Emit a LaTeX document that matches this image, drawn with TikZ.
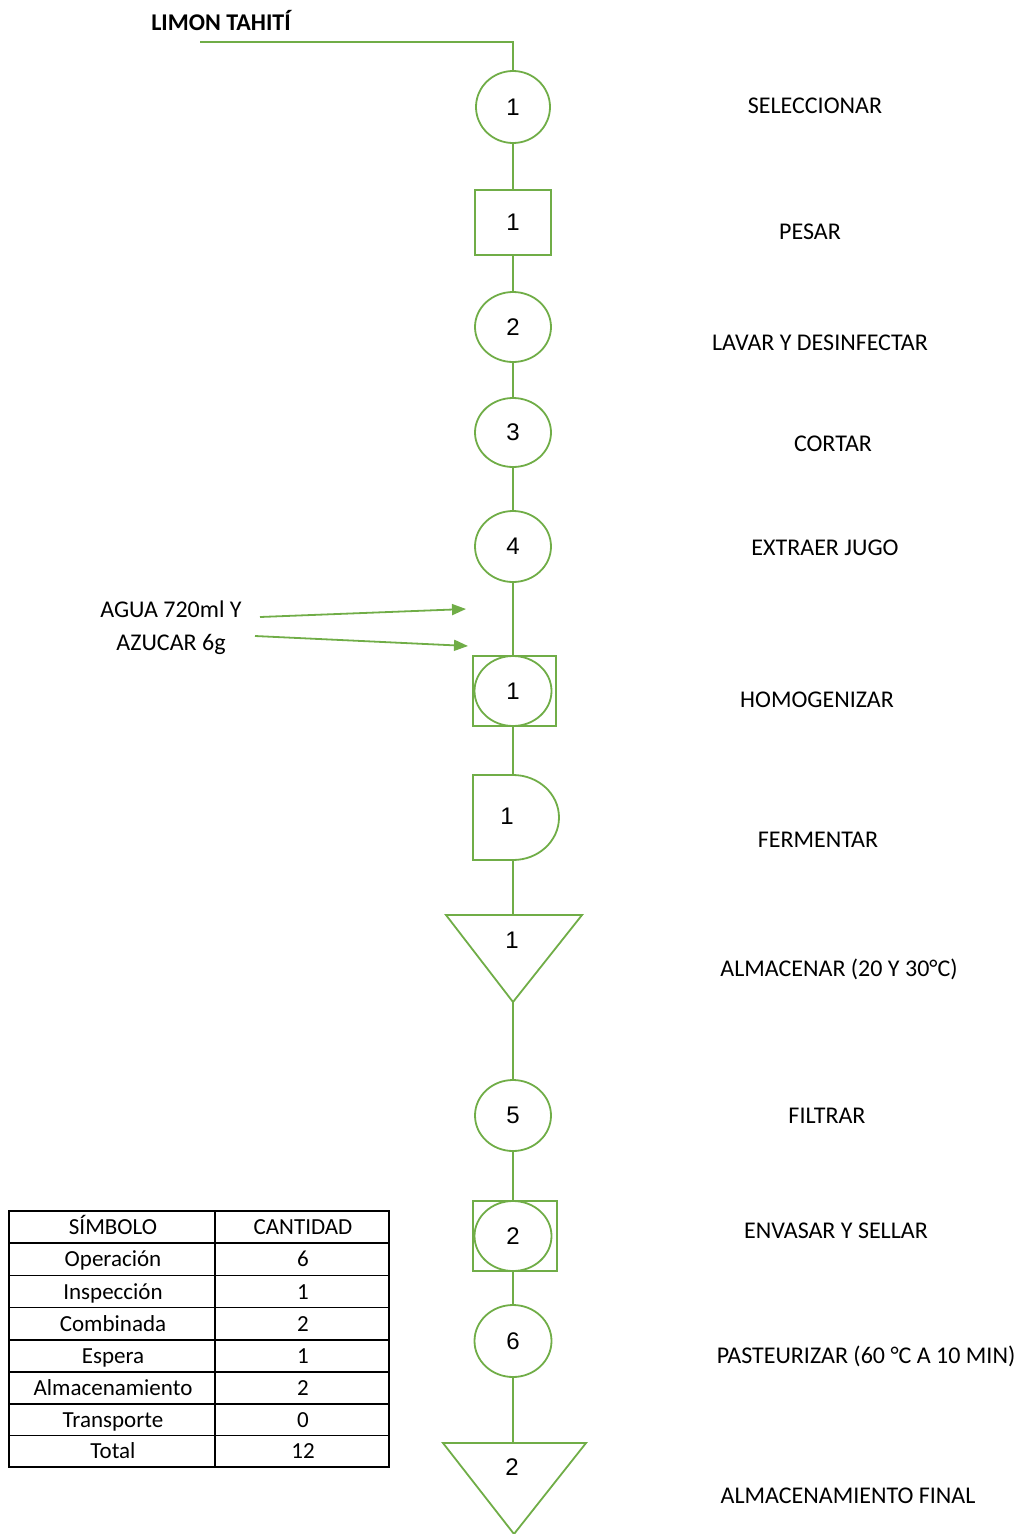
\documentclass[tikz,border=0pt]{standalone}
\usepackage{fontspec}
\setmainfont{Carlito}
\newfontfamily\numfont{Liberation Sans}
\usetikzlibrary{shapes.geometric,arrows.meta}
\definecolor{flowgreen}{RGB}{112,173,71}
\tikzset{
  flow/.style={draw=flowgreen, line width=1.8pt},
  opnode/.style={ellipse, draw=flowgreen, line width=1.8pt, inner sep=0pt, minimum width=76pt, minimum height=71pt, font=\numfont\fontsize{24}{28}\selectfont},
  insnode/.style={rectangle, draw=flowgreen, line width=1.8pt, inner sep=0pt, minimum width=76pt, minimum height=65pt, font=\numfont\fontsize{24}{28}\selectfont},
  numtext/.style={inner sep=0pt, font=\numfont\fontsize{24}{28}\selectfont},
  steplabel/.style={inner sep=0pt, font=\fontsize{24}{28}\selectfont, text height=15.5pt, text depth=0pt, anchor=center},
  celltext/.style={inner sep=0pt, font=\fontsize{23}{27}\selectfont, anchor=base},
  tabline/.style={draw=black, line width=1.5pt},
  inarrow/.style={draw=flowgreen, line width=1.8pt, -{Triangle[length=14pt,width=11pt]}},
}
\begin{document}
\begin{tikzpicture}[x=1pt,y=-1pt]
\useasboundingbox (0,0) rectangle (1025,1534);
% title
\node[inner sep=0pt, font=\bfseries\fontsize{24}{28}\selectfont, text height=15.5pt, text depth=0pt, anchor=center] (title) at (221,23) {LIMON TAHITÍ};
\coordinate (start) at (200,42);
% symbols
\node[opnode, minimum width=74pt, minimum height=72pt] (s1) at (513,107) {1};
\node[insnode] (p1) at (513,222.5) {1};
\node[opnode, minimum height=70pt] (s2) at (513,327) {2};
\node[opnode, minimum height=69pt] (s3) at (513,432.5) {3};
\node[opnode] (s4) at (513,546.5) {4};
% combined 1
\node[rectangle, draw=flowgreen, line width=1.8pt, minimum width=83pt, minimum height=70pt] (h1sq) at (514.5,691) {};
\node[opnode, minimum width=77pt, minimum height=70pt] (h1) at (513,691) {1};
% fermentar (D)
\coordinate (f1top) at (513,775);
\coordinate (f1bot) at (513,860);
\draw[flow, line join=miter] (473,775) -- (f1top) arc[start angle=-90, end angle=90, x radius=46, y radius=42.5] -- (473,860) -- cycle;
\node[numtext] (f1) at (507,816) {1};
% almacenar triangle 1
\coordinate (t1top) at (513,915);
\coordinate (t1apex) at (513,1002);
\draw[flow, line join=miter] (446,915) -- (582,915) -- (t1apex) -- cycle;
\node[numtext] (t1) at (512,940) {1};
% filtrar
\node[opnode] (s5) at (513,1115.5) {5};
% combined 2
\node[rectangle, draw=flowgreen, line width=1.8pt, minimum width=84pt, minimum height=70pt] (e2sq) at (515,1236) {};
\node[opnode, minimum width=77pt, minimum height=70pt] (e2) at (513,1236) {2};
% pasteurizar
\node[opnode, minimum width=77pt, minimum height=72pt] (s6) at (513,1341) {6};
% almacenamiento final
\coordinate (t2top) at (513,1443);
\coordinate (t2apex) at (514,1534);
\draw[flow, line join=miter] (443,1443) -- (586,1443) -- (t2apex) -- cycle;
\node[numtext] (t2) at (512,1467) {2};
% connectors
\draw[flow] (start) -| (s1.north);
\draw[flow] (s1.south) -- (p1.north);
\draw[flow] (p1.south) -- (s2.north);
\draw[flow] (s2.south) -- (s3.north);
\draw[flow] (s3.south) -- (s4.north);
\draw[flow] (s4.south) -- (h1sq.north -| s4.south);
\draw[flow] (h1sq.south -| h1.south) -- (f1top);
\draw[flow] (f1bot) -- (t1top);
\draw[flow] (t1apex) -- (s5.north);
\draw[flow] (s5.south) -- (e2sq.north -| s5.south);
\draw[flow] (e2sq.south -| e2.south) -- (s6.north);
\draw[flow] (s6.south) -- (t2top);
% inputs
\node[steplabel] (agua1) at (171,610) {AGUA 720ml Y};
\node[steplabel] (agua2) at (171,643) {AZUCAR 6g};
\coordinate (a1s) at (260,617);
\coordinate (a1e) at (466,609);
\coordinate (a2s) at (255,636);
\coordinate (a2e) at (468,646);
\draw[inarrow] (a1s) -- (a1e);
\draw[inarrow] (a2s) -- (a2e);
% step labels
\node[steplabel] (l1) at (815,106) {SELECCIONAR};
\node[steplabel] (l2) at (810,232) {PESAR};
\node[steplabel] (l3) at (820,343) {LAVAR Y DESINFECTAR};
\node[steplabel] (l4) at (833,444) {CORTAR};
\node[steplabel] (l5) at (825,548) {EXTRAER JUGO};
\node[steplabel] (l6) at (817,700) {HOMOGENIZAR};
\node[steplabel] (l7) at (818,840) {FERMENTAR};
\node[steplabel] (l8) at (839,969) {ALMACENAR (20 Y 30°C)};
\node[steplabel] (l9) at (827,1116) {FILTRAR};
\node[steplabel] (l10) at (836,1231) {ENVASAR Y SELLAR};
\node[steplabel] (l11) at (866,1356) {PASTEURIZAR (60 °C A 10 MIN)};
\node[steplabel] (l12) at (848,1496) {ALMACENAMIENTO FINAL};
% table
\draw[tabline] (9,1211) rectangle (389,1467);
\draw[tabline] (215,1211) -- (215,1467);
\foreach \yy in {1243,1275.5,1307.5,1340,1372,1404,1435.5} {
  \draw[tabline] (9,\yy) -- (389,\yy);
}
\node[celltext] (c1a) at (113,1234.5) {SÍMBOLO};
\node[celltext] (c1b) at (303,1234.5) {CANTIDAD};
\node[celltext] (c2a) at (113,1266.5) {Operación};
\node[celltext] (c2b) at (303,1266.5) {6};
\node[celltext] (c3a) at (113,1299) {Inspección};
\node[celltext] (c3b) at (303,1299) {1};
\node[celltext] (c4a) at (113,1331) {Combinada};
\node[celltext] (c4b) at (303,1331) {2};
\node[celltext] (c5a) at (113,1363.5) {Espera};
\node[celltext] (c5b) at (303,1363.5) {1};
\node[celltext] (c6a) at (113,1395.5) {Almacenamiento};
\node[celltext] (c6b) at (303,1395.5) {2};
\node[celltext] (c7a) at (113,1427.5) {Transporte};
\node[celltext] (c7b) at (303,1427.5) {0};
\node[celltext] (c8a) at (113,1458.5) {Total};
\node[celltext] (c8b) at (303,1458.5) {12};
\end{tikzpicture}
\end{document}
